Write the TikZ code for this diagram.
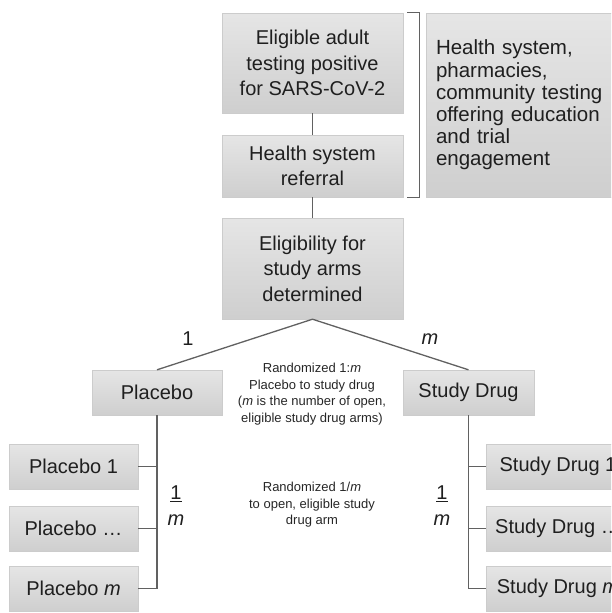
\documentclass[tikz,border=0pt]{standalone}
\usepackage{fontspec}
\setmainfont{Liberation Sans}
\usetikzlibrary{positioning,calc}

\begin{document}
\begin{tikzpicture}[x=1pt,y=-1pt,
  box/.style={draw=gray!40, top color=gray!20, bottom color=gray!38, inner sep=0pt,
    align=center, text=black!88, font=\fontsize{20}{25.5}\selectfont},
  link/.style={draw=black!62, line width=1.3pt},
  note/.style={align=center, text=black!85, font=\fontsize{13}{16.5}\selectfont}]

\clip (0,0) rectangle (611,613);

% Referral stage
\node[box, minimum width=181, minimum height=100] (adult) at (312.5,63)
  {Eligible adult\\testing positive\\for SARS-CoV-2};
\node[box, minimum width=181, minimum height=62] (referral) at (312.5,166)
  {Health system\\referral};
\node[box, minimum width=190, minimum height=184, text width=170, align=left,
  inner sep=10pt, font=\fontsize{20.5}{22.2}\selectfont] (outreach) at (521,105)
  {Health system,\\pharmacies,\\community testing\\offering education\\and trial\\engagement};

% Bracket
\coordinate (brtop) at ($(adult.north east)+(4,0)$);
\coordinate (brbot) at ($(referral.south east)+(4,0)$);
\draw[link, line width=1.1pt] (brtop) -- ++(12,0) |- (brbot);

\node[box, minimum width=181, minimum height=101] (arms) at (312.5,268.5)
  {Eligibility for\\study arms\\determined};

\draw[link] (adult) -- (referral);
\draw[link] (referral) -- (arms);

% First randomisation
\node[box, minimum width=130, minimum height=45] (placebo) at (157,392.5) {Placebo};
\node[box, minimum width=131, minimum height=45] (drug) at (468.5,392.5) {Study Drug};
\draw[link] (placebo.north) -- (arms.south) -- (drug.north);
\node[font=\fontsize{20}{24}\selectfont, text=black!88] (one) at (188,339) {1};
\node[font=\fontsize{20}{24}\selectfont, text=black!88] (em) at (430,339) {\textit{m}};
\node[note] (rand) at (312,394)
  {Randomized 1:\textit{m}\\Placebo to study drug\\(\textit{m} is the number of open,\\eligible study drug arms)};

% Placebo arms
\node[box, minimum width=129, minimum height=45] (plac1) at (73.5,466.5) {Placebo 1};
\node[box, minimum width=129, minimum height=45] (plac2) at (73.5,528.5) {Placebo …};
\node[box, minimum width=129, minimum height=45] (plac3) at (73.5,588.5) {Placebo \textit{m}};
\draw[link] (placebo.south) |- (plac3.east);
\draw[link] (plac1.east) -- (plac1.east -| placebo.south);
\draw[link] (plac2.east) -- (plac2.east -| placebo.south);

% Study drug arms
\node[box, minimum width=144, minimum height=45] (drug1) at (558,466.5) {Study Drug 1};
\node[box, minimum width=144, minimum height=45] (drug2) at (558,528.5) {Study Drug …};
\node[box, minimum width=144, minimum height=45] (drug3) at (558,588.5) {Study Drug \textit{m}};
\draw[link] (drug.south) |- (drug3.west);
\draw[link] (drug1.west) -- (drug1.west -| drug.south);
\draw[link] (drug2.west) -- (drug2.west -| drug.south);

% Second randomisation
\node[align=center, text=black!88, font=\fontsize{20}{26}\selectfont] (fracl) at (176,506)
  {\underline{1}\\\textit{m}};
\node[align=center, text=black!88, font=\fontsize{20}{26}\selectfont] (fracr) at (442,506)
  {\underline{1}\\\textit{m}};
\node[note] (rand2) at (312,505)
  {Randomized 1/\textit{m}\\to open, eligible study\\drug arm};

\end{tikzpicture}
\end{document}
